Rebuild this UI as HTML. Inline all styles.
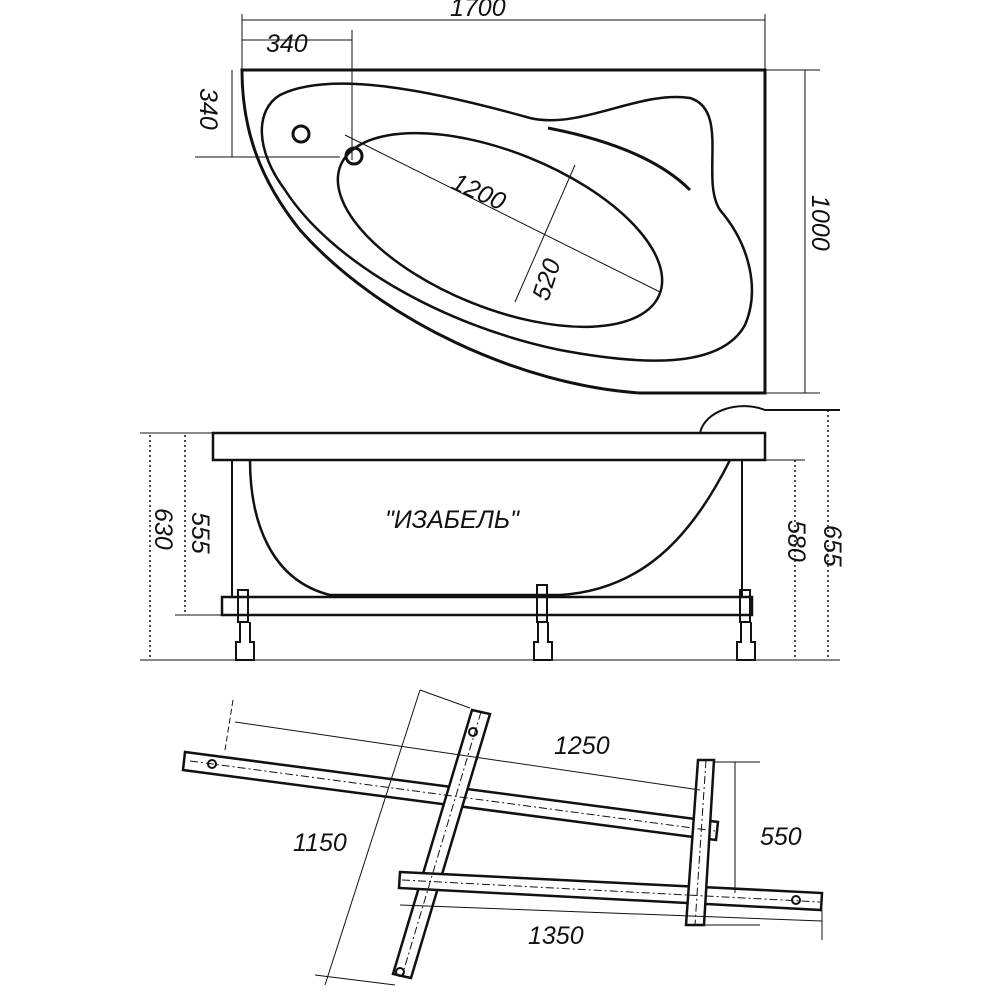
<!DOCTYPE html>
<html><head><meta charset="utf-8"><style>
html,body{margin:0;padding:0;background:#fff}
svg{display:block}
text{font-family:"Liberation Sans",sans-serif;font-style:italic;fill:#111}
</style></head><body>
<svg width="1000" height="1000" viewBox="0 0 1000 1000" xmlns="http://www.w3.org/2000/svg">
<g stroke="#111" fill="none">
<!-- TOP VIEW -->
<path d="M242,70 L765,70 L765,393 L640,393 C520,385 380,320 300,230 C260,180 242,130 242,70 Z" stroke-width="3"/>
<path d="M280,95 C330,70 430,90 530,118 C580,130 640,90 690,98 C730,110 700,180 720,210 C750,245 760,290 745,325 C720,370 640,365 560,350 C440,325 330,260 285,190 C255,150 255,110 280,95 Z" stroke-width="2.5"/>
<ellipse cx="500" cy="230" rx="172" ry="78" transform="rotate(22 500 230)" stroke-width="2.5"/>
<path d="M548,128 C610,140 660,160 690,190" stroke-width="3"/>
<circle cx="301" cy="134" r="8" stroke-width="3"/>
<circle cx="354" cy="156" r="8" stroke-width="3"/>
<g stroke-width="1">
<line x1="242" y1="20" x2="765" y2="20"/><line x1="242" y1="14" x2="242" y2="70"/><line x1="765" y1="14" x2="765" y2="70"/>
<line x1="242" y1="40" x2="352" y2="40"/><line x1="352" y1="30" x2="352" y2="160"/>
<line x1="232" y1="70" x2="232" y2="157"/><line x1="195" y1="157" x2="340" y2="157"/>
<line x1="805" y1="70" x2="805" y2="393"/><line x1="765" y1="70" x2="820" y2="70"/><line x1="765" y1="393" x2="820" y2="393"/>
<line x1="345" y1="135" x2="660" y2="292"/>
<line x1="575" y1="165" x2="515" y2="302"/>
</g>
<!-- SIDE VIEW -->
<rect x="213" y="433" width="552" height="27" stroke-width="2.5"/>
<path d="M700,433 C705,410 740,400 765,410 L840,410" stroke-width="2"/>
<path d="M250,460 C250,520 270,580 330,595 L560,595 C640,590 690,540 730,460" stroke-width="2.5"/>
<rect x="222" y="597" width="530" height="18" stroke-width="2.5"/>
<line x1="232" y1="460" x2="232" y2="597" stroke-width="2"/>
<line x1="742" y1="460" x2="742" y2="597" stroke-width="2"/>
<rect x="238" y="590" width="10" height="32" stroke-width="2"/>
<rect x="537" y="585" width="10" height="37" stroke-width="2"/>
<rect x="740" y="590" width="10" height="32" stroke-width="2"/>
<path d="M240,622 v20 h-4 v18 h18 v-18 h-4 v-20" stroke-width="2"/>
<path d="M538,622 v20 h-4 v18 h18 v-18 h-4 v-20" stroke-width="2"/>
<path d="M741,622 v20 h-4 v18 h18 v-18 h-4 v-20" stroke-width="2"/>
<g stroke-width="1.5" stroke-dasharray="2,3">
<line x1="150" y1="435" x2="150" y2="660"/><line x1="185" y1="435" x2="185" y2="615"/>
<line x1="795" y1="460" x2="795" y2="660"/><line x1="828" y1="410" x2="828" y2="660"/>
</g>
<g stroke-width="1">
<line x1="140" y1="433" x2="213" y2="433"/><line x1="140" y1="660" x2="840" y2="660"/>
<line x1="175" y1="615" x2="222" y2="615"/><line x1="765" y1="460" x2="805" y2="460"/>
</g>
<!-- BOTTOM FRAME -->
<g stroke-width="2.5" fill="#fff">
<polygon points="185,752 718,822 716,840 183,770"/>
<polygon points="472,710 490,714 411,978 393,974"/>
<polygon points="400,872 822,893 821,910 399,888"/>
<polygon points="698,760 714,760 704,925 686,925"/>
</g>
<g stroke-width="1" stroke-dasharray="8,3,2,3">
<line x1="190" y1="761" x2="715" y2="831"/>
<line x1="481" y1="712" x2="402" y2="976"/>
<line x1="402" y1="880" x2="820" y2="902"/>
<line x1="706" y1="760" x2="695" y2="925"/>
</g>
<circle cx="212" cy="764" r="4" stroke-width="2"/>
<circle cx="473" cy="732" r="4" stroke-width="2"/>
<circle cx="400" cy="972" r="4" stroke-width="2"/>
<circle cx="796" cy="900" r="4" stroke-width="2"/>
<g stroke-width="1">
<line x1="233" y1="700" x2="225" y2="750" stroke-dasharray="6,3"/>
<line x1="235" y1="722" x2="700" y2="790"/>
<line x1="420" y1="690" x2="325" y2="985"/>
<line x1="420" y1="690" x2="470" y2="708"/><line x1="315" y1="975" x2="395" y2="985"/>
<line x1="735" y1="762" x2="735" y2="893"/>
<line x1="714" y1="762" x2="760" y2="762"/><line x1="704" y1="925" x2="760" y2="925"/>
<line x1="400" y1="905" x2="822" y2="921"/><line x1="822" y1="910" x2="822" y2="940"/>
</g>
</g>
<g font-size="25">
<text x="450" y="16">1700</text>
<text x="266" y="52">340</text>
<text x="0" y="0" transform="translate(200,88) rotate(90)">340</text>
<text x="0" y="0" transform="translate(812,195) rotate(90)">1000</text>
<text x="0" y="0" transform="translate(450,188) rotate(24)">1200</text>
<text x="0" y="0" transform="translate(548,302) rotate(-72)">520</text>
<text x="385" y="528">"ИЗАБЕЛЬ"</text>
<text x="0" y="0" transform="translate(155,508) rotate(90)">630</text>
<text x="0" y="0" transform="translate(192,512) rotate(90)">555</text>
<text x="0" y="0" transform="translate(788,520) rotate(90)">580</text>
<text x="0" y="0" transform="translate(824,525) rotate(90)">655</text>
<text x="554" y="754">1250</text>
<text x="293" y="851">1150</text>
<text x="760" y="845">550</text>
<text x="528" y="944">1350</text>
</g>
</svg>
</body></html>
